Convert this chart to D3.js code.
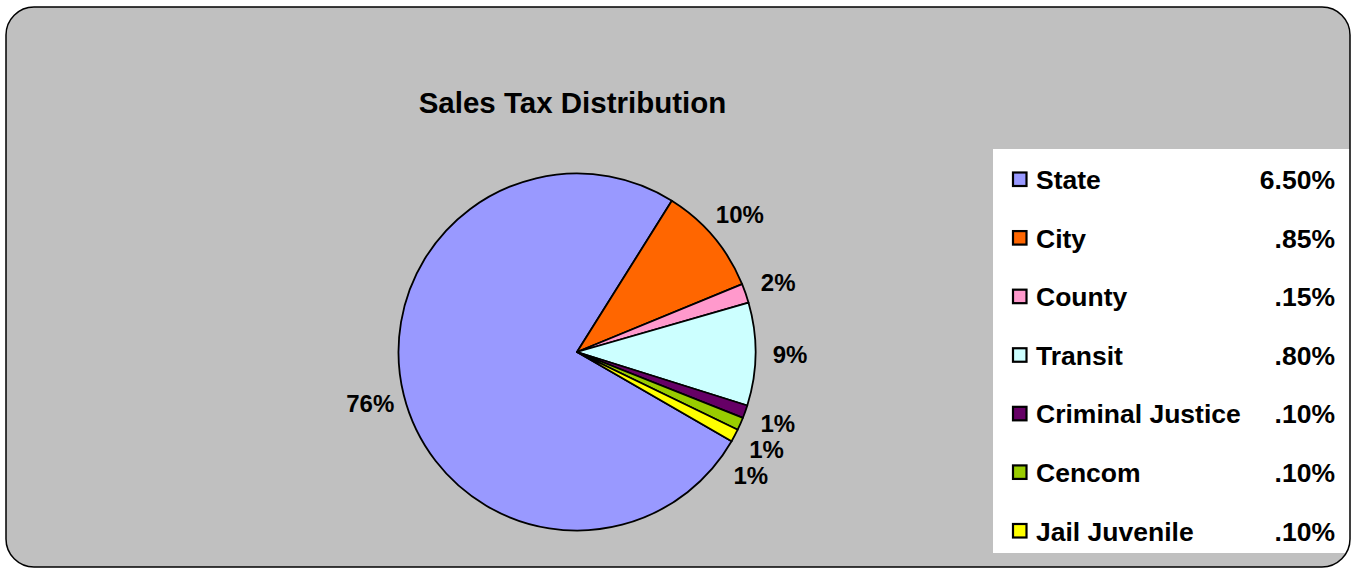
<!DOCTYPE html>
<html>
<head>
<meta charset="utf-8">
<script src="https://cdn.jsdelivr.net/npm/d3@7"></script>
<style>
  html, body { margin: 0; padding: 0; background: #ffffff; }
  svg { display: block; font-family: Arial, "Liberation Sans", sans-serif; }
</style>
</head>
<body>
<svg id="chart" width="1356" height="568"></svg>
<script>
// Sales tax components (percentage points of the total rate)
const categories = ["State", "City", "County", "Transit", "Criminal Justice", "Cencom", "Jail Juvenile"];
const rates = [6.50, 0.85, 0.15, 0.80, 0.10, 0.10, 0.10];
const rateLabels = ["6.50%", ".85%", ".15%", ".80%", ".10%", ".10%", ".10%"];
const colors = ["#9999FF", "#FF6600", "#FF99CC", "#CCFFFF", "#660066", "#99CC00", "#FFFF00"];
const title = "Sales Tax Distribution";

const svg = d3.select("#chart");

// chart area with rounded frame
svg.append("rect")
  .attr("x", 6).attr("y", 7)
  .attr("width", 1344).attr("height", 560)
  .attr("rx", 28).attr("ry", 28)
  .attr("fill", "#C0C0C0");

// title
svg.append("text")
  .attr("x", 572.5).attr("y", 113)
  .attr("text-anchor", "middle")
  .attr("font-size", 29.5)
  .attr("font-weight", "bold")
  .attr("fill", "#000")
  .text(title);

// pie
const cx = 577, cy = 352, R = 178.5;
const total = d3.sum(rates);
const start = 120 * Math.PI / 180;
const pie = d3.pie().sort(null).value(d => d.v)
  .startAngle(start).endAngle(start + 2 * Math.PI);
const data = categories.map((c, i) => ({ c, v: rates[i], col: colors[i] }));
const arcs = pie(data);
const arc = d3.arc().innerRadius(0).outerRadius(R);

const g = svg.append("g").attr("transform", `translate(${cx},${cy})`);
g.selectAll("path.slice")
  .data(arcs)
  .join("path")
  .attr("class", "slice")
  .attr("d", arc)
  .attr("fill", d => d.data.col)
  .attr("stroke", "#000")
  .attr("stroke-width", 1.8)
  .attr("stroke-linejoin", "round");

// percentage labels outside each slice, nudged apart where they crowd
const LR = 213;
const fmt = d3.format(".0%");
const labels = arcs.map(a => {
  const m = (a.startAngle + a.endAngle) / 2;
  return { a, m, x: LR * Math.sin(m), y: -LR * Math.cos(m), text: fmt(a.data.v / total) };
});
const minGap = 26;
let prev = null;
labels.forEach(l => {
  if (l.x > 0 && prev && prev.x > 0 && l.y < prev.y + minGap && l.m > Math.PI / 2) {
    l.y = prev.y + minGap;
    l.x = Math.sqrt(Math.max(0, LR * LR - l.y * l.y));
  }
  prev = l;
});
g.selectAll("text.pct")
  .data(labels)
  .join("text")
  .attr("class", "pct")
  .attr("x", d => d.x)
  .attr("y", d => d.y)
  .attr("text-anchor", "middle")
  .attr("dy", "0.36em")
  .attr("font-size", 24)
  .attr("font-weight", "bold")
  .attr("fill", "#000")
  .text(d => d.text);

// legend
const lg = svg.append("g");
lg.append("rect")
  .attr("x", 993).attr("y", 149)
  .attr("width", 357).attr("height", 404)
  .attr("fill", "#FFFFFF");

const rowY = d3.scalePoint().domain(categories).range([179.5, 531]);
const rows = lg.selectAll("g.row")
  .data(data)
  .join("g")
  .attr("class", "row")
  .attr("transform", d => `translate(0,${rowY(d.c)})`);
rows.append("rect")
  .attr("x", 1013).attr("y", -7)
  .attr("width", 13.5).attr("height", 13.5)
  .attr("fill", d => d.col)
  .attr("stroke", "#000")
  .attr("stroke-width", 2.2);
rows.append("text")
  .attr("x", 1036).attr("dy", "0.36em")
  .attr("font-size", 26.5)
  .attr("font-weight", "bold")
  .attr("fill", "#000")
  .text(d => d.c);
rows.append("text")
  .attr("x", 1335).attr("dy", "0.36em")
  .attr("text-anchor", "end")
  .attr("font-size", 26.5)
  .attr("font-weight", "bold")
  .attr("fill", "#000")
  .text((d, i) => rateLabels[i]);

// frame outline on top
svg.append("rect")
  .attr("x", 6).attr("y", 7)
  .attr("width", 1344).attr("height", 560)
  .attr("rx", 28).attr("ry", 28)
  .attr("fill", "none")
  .attr("stroke", "#000")
  .attr("stroke-width", 1.5);
</script>
</body>
</html>
